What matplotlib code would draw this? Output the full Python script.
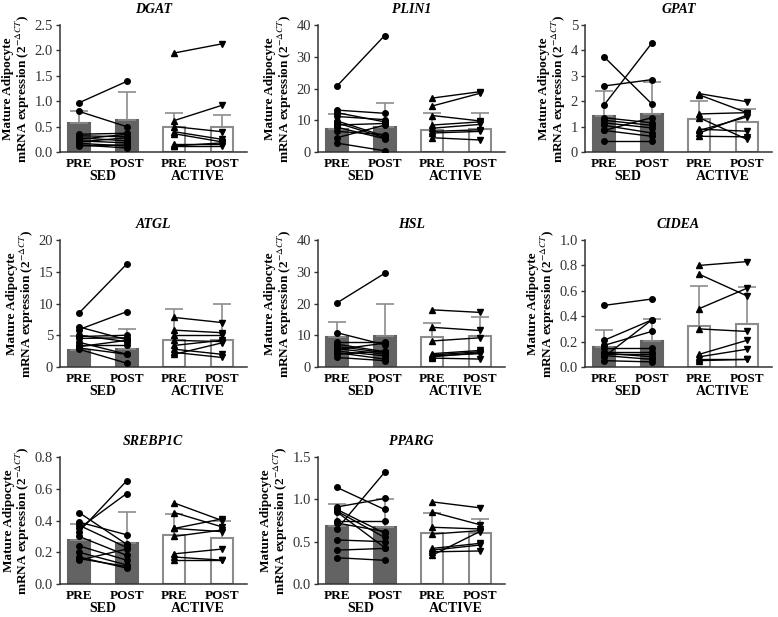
import matplotlib
matplotlib.use("Agg")
import matplotlib.pyplot as plt
from matplotlib.ticker import FormatStrFormatter

plt.rcParams['font.family'] = ['Liberation Serif', 'DejaVu Serif']
plt.rcParams['mathtext.fontset'] = 'stix'

# values: paired subjects, bar heights and upper SD
genes = ["DGAT", "PLIN1", "GPAT", "ATGL", "HSL", "CIDEA", "SREBP1C", "PPARG"]

dgat_sed_pre = [0.97, 0.80, 0.35, 0.32, 0.28, 0.25, 0.22, 0.20, 0.17, 0.14, 0.12]
dgat_sed_post = [1.39, 0.50, 0.37, 0.30, 0.22, 0.35, 0.18, 0.28, 0.12, 0.08, 0.14]
dgat_act_pre = [1.95, 0.62, 0.50, 0.40, 0.36, 0.15, 0.12, 0.12]
dgat_act_post = [2.13, 0.92, 0.40, 0.25, 0.20, 0.15, 0.12, 0.18]
dgat_bars = [0.58, 0.63, 0.50, 0.50]
dgat_err = [0.80, 1.19, 0.76, 0.72]

plin1_sed_pre = [20.8, 13.2, 12.4, 11.2, 9.8, 9.2, 8.5, 7.8, 6.5, 4.5, 2.8]
plin1_sed_post = [36.7, 12.2, 9.5, 10.2, 5.0, 4.5, 9.0, 4.2, 5.5, 8.5, 0.4]
plin1_act_pre = [17.0, 14.5, 11.5, 8.5, 7.5, 6.5, 6.0, 4.5]
plin1_act_post = [19.0, 18.5, 9.8, 9.5, 8.7, 7.0, 6.5, 3.8]
plin1_bars = [7.2, 7.9, 6.8, 7.3]
plin1_err = [12.0, 15.6, 12.4, 12.2]

gpat_sed_pre = [3.75, 2.60, 1.85, 1.35, 1.25, 1.15, 1.05, 0.85, 0.85, 0.42]
gpat_sed_post = [1.90, 2.85, 4.28, 1.15, 1.05, 0.95, 0.75, 0.62, 1.35, 0.42]
gpat_act_pre = [2.30, 2.25, 1.50, 1.35, 0.90, 0.85, 0.75, 0.62]
gpat_act_post = [1.98, 1.55, 1.55, 0.50, 0.82, 1.38, 1.45, 0.60]
gpat_bars = [1.41, 1.51, 1.32, 1.18]
gpat_err = [2.41, 2.74, 2.01, 1.71]

atgl_sed_pre = [8.5, 6.3, 5.9, 5.0, 4.8, 4.5, 3.9, 3.5, 3.2, 2.8, 3.0]
atgl_sed_post = [16.2, 4.3, 8.7, 4.0, 5.0, 4.6, 2.0, 3.5, 4.2, 0.6, 2.0]
atgl_act_pre = [7.8, 5.8, 5.0, 4.2, 3.4, 2.8, 2.3, 2.0]
atgl_act_post = [7.0, 5.4, 5.0, 4.0, 4.2, 2.0, 1.5, 3.8]
atgl_bars = [2.65, 2.8, 4.2, 4.2]
atgl_err = [4.9, 6.0, 9.1, 9.9]

hsl_sed_pre = [20.2, 10.8, 8.0, 7.2, 6.5, 5.5, 5.0, 4.5, 4.0, 3.0, 5.8]
hsl_sed_post = [29.5, 7.0, 8.0, 4.8, 4.5, 7.5, 3.5, 2.5, 5.0, 2.0, 4.0]
hsl_act_pre = [18.0, 12.5, 8.2, 4.2, 3.8, 3.5, 3.2, 2.8]
hsl_act_post = [17.2, 11.5, 9.2, 5.2, 4.8, 4.2, 4.5, 2.5]
hsl_bars = [9.3, 9.7, 9.3, 9.9]
hsl_err = [14.1, 19.9, 14.0, 15.7]

cidea_sed_pre = [0.485, 0.21, 0.17, 0.15, 0.12, 0.11, 0.10, 0.09, 0.08, 0.05]
cidea_sed_post = [0.535, 0.37, 0.28, 0.15, 0.12, 0.08, 0.10, 0.06, 0.37, 0.04]
cidea_act_pre = [0.80, 0.73, 0.46, 0.30, 0.10, 0.08, 0.06, 0.05]
cidea_act_post = [0.83, 0.56, 0.62, 0.28, 0.21, 0.14, 0.06, 0.06]
cidea_bars = [0.159, 0.204, 0.32, 0.34]
cidea_err = [0.29, 0.38, 0.635, 0.63]

srebp1c_sed_pre = [0.45, 0.39, 0.37, 0.35, 0.33, 0.30, 0.24, 0.20, 0.17, 0.16, 0.15]
srebp1c_sed_post = [0.25, 0.31, 0.23, 0.57, 0.65, 0.18, 0.15, 0.12, 0.10, 0.11, 0.22]
srebp1c_act_pre = [0.51, 0.45, 0.35, 0.35, 0.30, 0.19, 0.17, 0.15]
srebp1c_act_post = [0.40, 0.36, 0.41, 0.33, 0.34, 0.22, 0.15, 0.15]
srebp1c_bars = [0.276, 0.26, 0.308, 0.287]
srebp1c_err = [0.38, 0.456, 0.444, 0.397]

pparg_sed_pre = [1.14, 0.91, 0.88, 0.86, 0.75, 0.72, 0.65, 0.52, 0.40, 0.31, 0.85]
pparg_sed_post = [0.88, 1.01, 0.60, 0.55, 0.75, 0.62, 1.32, 0.50, 0.42, 0.28, 0.43]
pparg_act_pre = [0.97, 0.85, 0.67, 0.59, 0.42, 0.40, 0.38, 0.34]
pparg_act_post = [0.90, 0.70, 0.65, 0.63, 0.48, 0.46, 0.39, 0.62]
pparg_bars = [0.685, 0.677, 0.60, 0.60]
pparg_err = [0.95, 1.00, 0.84, 0.77]

ylims = [2.5, 40, 5, 20, 40, 1.0, 0.8, 1.5]
ysteps = [0.5, 10, 1, 5, 10, 0.2, 0.2, 0.5]
tick_labels = ["PRE", "POST", "PRE", "POST"]
groups = ["SED", "ACTIVE"]

panels = [
    (dgat_sed_pre, dgat_sed_post, dgat_act_pre, dgat_act_post, dgat_bars, dgat_err),
    (plin1_sed_pre, plin1_sed_post, plin1_act_pre, plin1_act_post, plin1_bars, plin1_err),
    (gpat_sed_pre, gpat_sed_post, gpat_act_pre, gpat_act_post, gpat_bars, gpat_err),
    (atgl_sed_pre, atgl_sed_post, atgl_act_pre, atgl_act_post, atgl_bars, atgl_err),
    (hsl_sed_pre, hsl_sed_post, hsl_act_pre, hsl_act_post, hsl_bars, hsl_err),
    (cidea_sed_pre, cidea_sed_post, cidea_act_pre, cidea_act_post, cidea_bars, cidea_err),
    (srebp1c_sed_pre, srebp1c_sed_post, srebp1c_act_pre, srebp1c_act_post, srebp1c_bars, srebp1c_err),
    (pparg_sed_pre, pparg_sed_post, pparg_act_pre, pparg_act_post, pparg_bars, pparg_err),
]

fig = plt.figure(figsize=(7.78, 6.17), dpi=100)
lefts = [0.0771, 0.4087, 0.7519]
bottoms = [0.7536, 0.4052, 0.0535]
w, h = 0.240, 0.2058

dark = "#636363"
grey = "#8c8c8c"

for i, gene in enumerate(genes):
    sed_pre, sed_post, act_pre, act_post, bars, err = panels[i]
    ax = fig.add_axes([lefts[i % 3], bottoms[i // 3], w, h])
    x = [0, 1, 2, 3]
    colors = [dark, dark, "white", "white"]
    edges = [dark, dark, grey, grey]
    ax.bar(x, bars, width=0.46, color=colors, edgecolor=edges, linewidth=1.5, zorder=1)
    for xi, b, e in zip(x, bars, err):
        ax.errorbar(xi, b, yerr=[[0], [e - b]], color=grey, capsize=6.5,
                    elinewidth=1.2, capthick=1.2, zorder=2)
    for a, b in zip(sed_pre, sed_post):
        ax.plot([0, 1], [a, b], color="black", lw=1, zorder=3)
    ax.plot([0] * len(sed_pre), sed_pre, "o", color="black", ms=4, zorder=4)
    ax.plot([1] * len(sed_post), sed_post, "o", color="black", ms=4, zorder=4)
    for a, b in zip(act_pre, act_post):
        ax.plot([2, 3], [a, b], color="black", lw=1, zorder=3)
    ax.plot([2] * len(act_pre), act_pre, "^", color="black", ms=4, zorder=4)
    ax.plot([3] * len(act_post), act_post, "v", color="black", ms=4, zorder=4)

    ax.set_xlim(-0.4, 3.52)
    ax.set_ylim(0, ylims[i])
    ax.set_yticks([k * ysteps[i] for k in range(int(round(ylims[i] / ysteps[i])) + 1)])
    if ysteps[i] < 1:
        ax.yaxis.set_major_formatter(FormatStrFormatter("%.1f"))
    ax.set_xticks(x)
    ax.set_xticklabels(tick_labels, fontweight="bold", fontsize=9.5)
    ax.tick_params(axis="x", length=0, pad=4)
    ax.tick_params(axis="y", labelsize=10.5, length=3, width=1, pad=2, colors="#333333")
    for s in ["top", "right"]:
        ax.spines[s].set_visible(False)
    for s in ["left", "bottom"]:
        ax.spines[s].set_linewidth(1.1)
        ax.spines[s].set_color("#333333")
    ax.set_title(gene, fontweight="bold", fontstyle="italic", fontsize=10, pad=9)
    ax.set_ylabel("Mature Adipocyte\nmRNA expression (2$^{-\\Delta CT}$)",
                  fontweight="bold", fontsize=9.5, labelpad=2, linespacing=0.95)
    for gx, g in zip([0.5, 2.5], groups):
        ax.text(gx, -0.145, g, transform=ax.get_xaxis_transform(), ha="center",
                va="top", fontweight="bold", fontsize=10)

fig.savefig("out.png", dpi=100)
